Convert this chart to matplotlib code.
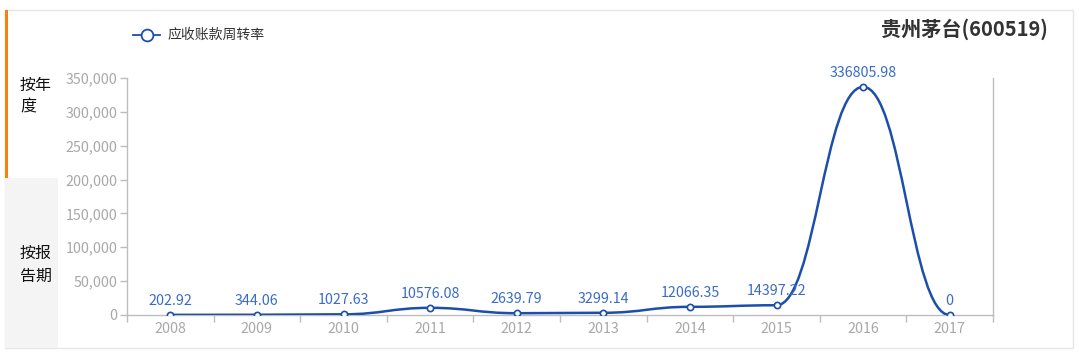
import numpy as np
import matplotlib
matplotlib.use("Agg")
from matplotlib import pyplot as plt
from matplotlib.path import Path
from matplotlib.patches import PathPatch, Rectangle
from matplotlib.ticker import FuncFormatter, FixedLocator

plt.rcParams['font.family'] = ['Noto Sans CJK SC', 'DejaVu Sans']

years = ['2008', '2009', '2010', '2011', '2012', '2013', '2014', '2015', '2016', '2017']
turnover = [202.92, 344.06, 1027.63, 10576.08, 2639.79, 3299.14, 12066.35, 14397.22, 336805.98, 0]
value_labels = ['202.92', '344.06', '1027.63', '10576.08', '2639.79', '3299.14',
                '12066.35', '14397.22', '336805.98', '0']
yticks = [0, 50000, 100000, 150000, 200000, 250000, 300000, 350000]
series_name = '应收账款周转率'
title = '贵州茅台(600519)'

W, H = 1079, 355
LINE = '#1c4eac'
LABEL = '#3a6cc6'
GREY = '#a8a8a8'

fig = plt.figure(figsize=(W / 100, H / 100), dpi=100)

# pixel box of the plot area
px0, px1, py_top, py_bot = 127, 993, 78, 315
ax = fig.add_axes([px0 / W, (H - py_bot) / H, (px1 - px0) / W, (py_bot - py_top) / H])
ax.set_xlim(-0.5, len(years) - 0.5)
ax.set_ylim(0, 350000)


def smooth_path(xs, ys, k=0.45):
    # bezier through the points, every point gets flat handles k * step long
    xs = np.asarray(xs, float)
    ys = np.asarray(ys, float)
    verts = [(xs[0], ys[0])]
    codes = [Path.MOVETO]
    for i in range(1, len(xs)):
        step = xs[i] - xs[i - 1]
        verts += [(xs[i - 1] + k * step, ys[i - 1]), (xs[i] - k * step, ys[i]), (xs[i], ys[i])]
        codes += [Path.CURVE4] * 3
    return Path(verts, codes)


xs = np.arange(len(years))
ax.add_patch(PathPatch(smooth_path(xs, turnover), fill=False, edgecolor=LINE, lw=1.8,
                       capstyle='round', joinstyle='round', zorder=3))
ax.plot(xs, turnover, 'o', ms=4.5, mfc='white', mec=LINE, mew=1.2, zorder=4)

for x, v, t in zip(xs, turnover, value_labels):
    ax.annotate(t, (x, v), xytext=(0, 5), textcoords='offset points', ha='center', va='bottom',
                fontsize=10.3, color=LABEL, zorder=5)

# axes styling
ax.spines['top'].set_visible(False)
for side in ['left', 'bottom', 'right']:
    ax.spines[side].set_color('#bdbdbd')
    ax.spines[side].set_linewidth(1)

ax.set_yticks(yticks)
ax.yaxis.set_major_formatter(FuncFormatter(lambda v, p: f'{int(v):,}'))
ax.tick_params(axis='y', length=5, width=1, color='#bdbdbd', labelcolor=GREY, labelsize=10.3, pad=2)

ax.set_xticks(xs)
ax.set_xticklabels(years)
ax.xaxis.set_minor_locator(FixedLocator(np.arange(-0.5, len(years), 1.0)))
ax.tick_params(axis='x', which='major', length=0, labelcolor=GREY, labelsize=10.3, pad=5)
ax.tick_params(axis='x', which='minor', length=5, width=1, color='#bdbdbd')


# frame and side tabs
def px_rect(x0, y0, x1, y1, **kw):
    fig.patches.append(Rectangle((x0 / W, 1 - y1 / H), (x1 - x0) / W, (y1 - y0) / H,
                                 transform=fig.transFigure, **kw))


px_rect(5, 10, 1073, 348, fill=False, edgecolor='#e6e6e6', lw=1)
px_rect(5, 178, 58, 348, facecolor='#f4f4f4', edgecolor='none')
px_rect(5, 10, 8, 178, facecolor='#f5820f', edgecolor='none')

for txt, y in [('按年', 85), ('度', 107), ('按报', 253), ('告期', 276)]:
    fig.text(20 / W, 1 - y / H, txt, fontsize=11.5, color='#111111', va='center', ha='left')

fig.text(1048 / W, 1 - 29 / H, title, fontsize=14.5, fontweight='bold', color='#333333',
         ha='right', va='center')

# legend
ly = 1 - 35 / H
fig.lines.append(plt.Line2D([133 / W, 160 / W], [ly, ly], color=LINE, lw=1.3,
                            transform=fig.transFigure))
fig.lines.append(plt.Line2D([146.5 / W], [ly], marker='o', ms=8.5, mfc='white', mec=LINE, mew=1.3,
                            transform=fig.transFigure))
fig.text(167 / W, ly, series_name, fontsize=10, color='#333333', va='center', ha='left')

fig.savefig('out.png', dpi=100)
